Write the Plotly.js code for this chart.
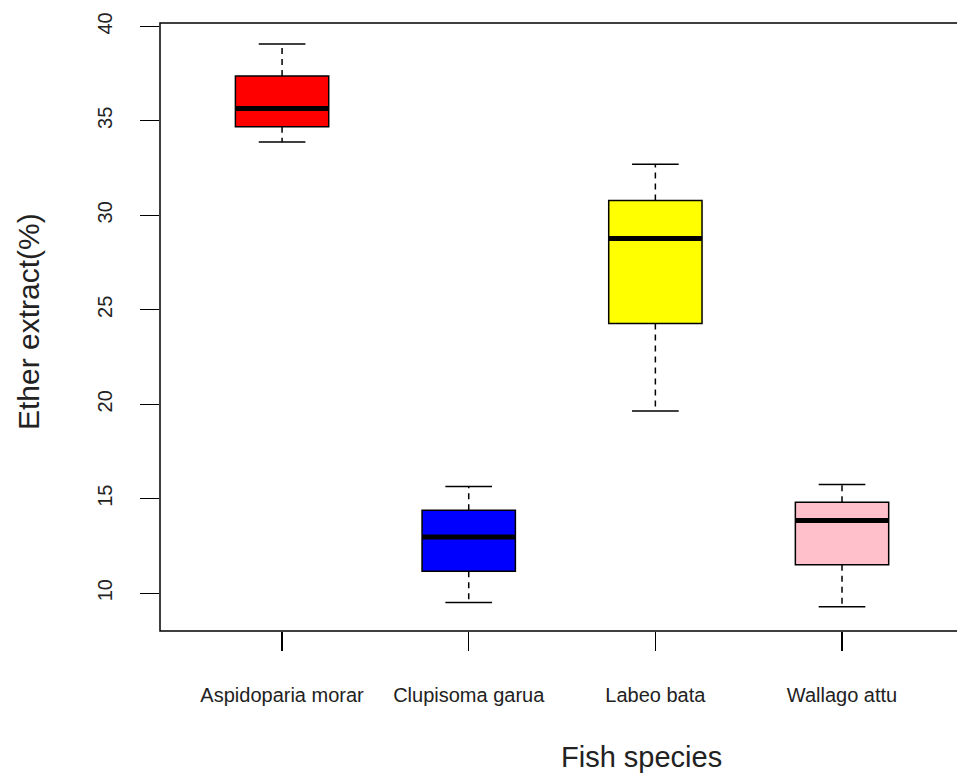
<!DOCTYPE html>
<html>
<head>
<meta charset="utf-8">
<script src="https://cdn.plot.ly/plotly-3.0.1.min.js"></script>
<style>html,body{margin:0;padding:0;background:#fff;}#chart{width:957px;height:783px;}</style>
</head>
<body>
<div id="chart"></div>
<script>
// Data
var categories = ["Aspidoparia morar", "Clupisoma garua", "Labeo bata", "Wallago attu"];
var lowerWhisker = [33.88, 9.51, 19.65, 9.28];
var q1Values = [34.69, 11.16, 24.27, 11.50];
var medianValues = [35.66, 12.98, 28.78, 13.85];
var q3Values = [37.37, 14.39, 30.79, 14.81];
var upperWhisker = [39.07, 15.65, 32.70, 15.75];
var boxColors = ["#FF0000", "#0000FF", "#FFFF00", "#FFC0CB"];
var yTickValues = [10, 15, 20, 25, 30, 35, 40];

var BOXW = 0.5, CAPW = 0.25;
var traces = [];
categories.forEach(function (name, i) {
  var pos = i + 1;
  traces.push({
    type: "box", name: name, x: [pos],
    q1: [q1Values[i]], median: [medianValues[i]], q3: [q3Values[i]],
    lowerfence: [q1Values[i]], upperfence: [q3Values[i]],
    width: BOXW, fillcolor: boxColors[i],
    line: {color: "#000", width: 1.5}, whiskerwidth: 0,
    boxpoints: false, showlegend: false, hoverinfo: "skip"
  });
  // dashed whiskers
  traces.push({
    type: "scatter", mode: "lines", showlegend: false, hoverinfo: "skip",
    x: [pos, pos, null, pos, pos],
    y: [q1Values[i], lowerWhisker[i], null, q3Values[i], upperWhisker[i]],
    line: {color: "#000", width: 1.5, dash: "6px,5px"}
  });
  // staples
  traces.push({
    type: "scatter", mode: "lines", showlegend: false, hoverinfo: "skip",
    x: [pos - CAPW / 2, pos + CAPW / 2, null, pos - CAPW / 2, pos + CAPW / 2],
    y: [lowerWhisker[i], lowerWhisker[i], null, upperWhisker[i], upperWhisker[i]],
    line: {color: "#000", width: 1.5}
  });
  // thick median
  traces.push({
    type: "scatter", mode: "lines", showlegend: false, hoverinfo: "skip",
    x: [pos - BOXW / 2, pos + BOXW / 2],
    y: [medianValues[i], medianValues[i]],
    line: {color: "#000", width: 5}
  });
});

var font = "Liberation Sans, Arial, sans-serif";
var layout = {
  width: 957, height: 783,
  margin: {l: 160, r: 0, t: 23, b: 152, pad: 0},
  paper_bgcolor: "#fff", plot_bgcolor: "#fff",
  showlegend: false,
  xaxis: {
    type: "linear", range: [0.346, 4.616],
    tickmode: "array", tickvals: [1, 2, 3, 4], ticktext: categories,
    ticks: "outside", ticklen: 19, tickwidth: 1.2, tickcolor: "#000",
    showgrid: false, zeroline: false, showline: false,
    tickfont: {family: font, size: 20, color: "#222"},
    ticklabelstandoff: 27, fixedrange: true
  },
  yaxis: {
    type: "linear", range: [8.0, 40.18],
    tickmode: "array", tickvals: yTickValues,
    ticks: "outside", ticklen: 19, tickwidth: 1.2, tickcolor: "#000",
    showgrid: false, zeroline: false, showline: false,
    tickangle: -90,
    tickfont: {family: font, size: 20, color: "#222"},
    ticklabelstandoff: 20, fixedrange: true
  },
  shapes: [{
    type: "rect", xref: "paper", yref: "paper", x0: 0, x1: 1.05, y0: 0, y1: 1,
    line: {color: "#000", width: 1.5}, fillcolor: "rgba(0,0,0,0)", layer: "above"
  }],
  annotations: [
    {text: "Fish species", xref: "paper", yref: "paper", x: (641 - 160) / 797, y: -(757 - 631) / 608,
     xanchor: "center", yanchor: "middle", showarrow: false,
     font: {family: font, size: 29, color: "#222"}},
    {text: "Ether extract(%)", xref: "paper", yref: "paper", x: -(160 - 28) / 797, y: (631 - 322) / 608,
     xanchor: "center", yanchor: "middle", showarrow: false, textangle: -90,
     font: {family: font, size: 30, color: "#222"}}
  ]
};

Plotly.newPlot("chart", traces, layout, {staticPlot: true, displayModeBar: false});
</script>
</body>
</html>
